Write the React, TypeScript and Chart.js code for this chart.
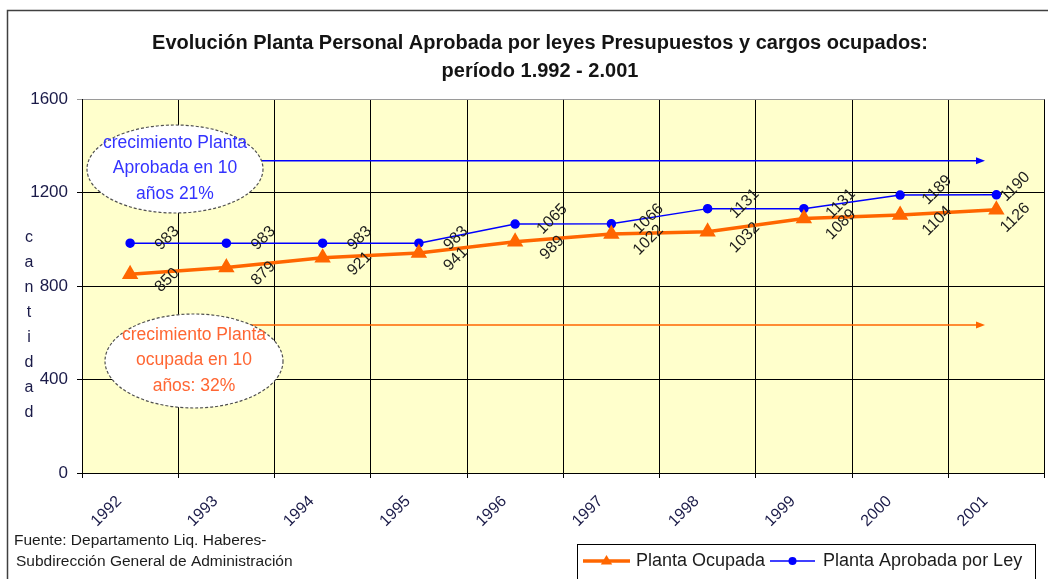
import React, { useEffect, useRef } from "react";
import { Chart, registerables } from "chart.js";

Chart.register(...registerables);

const years = ["1992", "1993", "1994", "1995", "1996", "1997", "1998", "1999", "2000", "2001"];
const plantaOcupada = [850, 879, 921, 941, 989, 1022, 1032, 1089, 1104, 1126];
const plantaAprobada = [983, 983, 983, 983, 1065, 1066, 1131, 1131, 1189, 1190];
const yMin = 0;
const yMax = 1600;
const yStep = 400;
const titleLines = [
  "Evolución Planta Personal Aprobada por leyes Presupuestos y cargos ocupados:",
  "período 1.992 - 2.001",
];
const seriesNames = ["Planta Ocupada", "Planta Aprobada por Ley"];
const yAxisTitle = "cantidad";
const sourceLines = ["Fuente: Departamento Liq. Haberes-", "Subdirección General de Administración"];
const noteAprobada = ["crecimiento Planta", "Aprobada en 10", "años 21%"];
const noteOcupada = ["crecimiento Planta", "ocupada en 10", "años: 32%"];

const FONT = "'Liberation Sans', Arial, sans-serif";
const ORANGE = "#FF6600";
const BLUE = "#0000FF";
const NAVY = "#1a1a48";

function arrow(ctx: CanvasRenderingContext2D, x1: number, y: number, x2: number, color: string, w: number) {
  ctx.save();
  ctx.strokeStyle = color;
  ctx.fillStyle = color;
  ctx.lineWidth = w;
  ctx.beginPath();
  ctx.moveTo(x1, y);
  ctx.lineTo(x2 - 6, y);
  ctx.stroke();
  ctx.beginPath();
  ctx.moveTo(x2, y);
  ctx.lineTo(x2 - 9, y - 3.5);
  ctx.lineTo(x2 - 9, y + 3.5);
  ctx.closePath();
  ctx.fill();
  ctx.restore();
}

function note(ctx: CanvasRenderingContext2D, cx: number, cy: number, rx: number, ry: number, lines: string[], color: string) {
  ctx.save();
  ctx.beginPath();
  ctx.ellipse(cx, cy, rx, ry, 0, 0, Math.PI * 2);
  ctx.fillStyle = "#ffffff";
  ctx.fill();
  ctx.setLineDash([3, 2]);
  ctx.strokeStyle = "#505050";
  ctx.lineWidth = 1.2;
  ctx.stroke();
  ctx.setLineDash([]);
  ctx.fillStyle = color;
  ctx.font = `17.5px ${FONT}`;
  ctx.textAlign = "center";
  ctx.textBaseline = "middle";
  lines.forEach((l, i) => ctx.fillText(l, cx, cy - 26 + i * 25.5));
  ctx.restore();
}

const decorPlugin = {
  id: "decor",
  beforeDraw(chart: any) {
    const { ctx, chartArea: a } = chart;
    ctx.save();
    ctx.fillStyle = "#FFFFCC";
    ctx.fillRect(a.left, a.top, a.right - a.left, a.bottom - a.top);
    ctx.restore();
  },
  afterDatasetsDraw(chart: any) {
    const { ctx } = chart;
    const yScale = chart.scales.y;
    // value labels
    ctx.save();
    ctx.font = `16px ${FONT}`;
    ctx.fillStyle = "#1c1c1c";
    ctx.textAlign = "center";
    ctx.textBaseline = "middle";
    chart.data.datasets.forEach((ds: any, di: number) => {
      const meta = chart.getDatasetMeta(di);
      meta.data.forEach((pt: any, i: number) => {
        const last = i === meta.data.length - 1;
        const dx = last ? 19 : 37;
        const dy = di === 0 ? (last ? 8 : 6) : last ? -8 : -5;
        ctx.save();
        ctx.translate(pt.x + dx, pt.y + dy);
        ctx.rotate(-Math.PI / 4);
        ctx.fillText(String(ds.data[i]), 0, 0);
        ctx.restore();
      });
    });
    ctx.restore();
    // annotations
    const yA = yScale.getPixelForValue(1336);
    const yO = yScale.getPixelForValue(633);
    arrow(ctx, 262, yA, 985, BLUE, 1.5);
    arrow(ctx, 243, yO, 985, ORANGE, 1.5);
    note(ctx, 175, 169, 88, 44, noteAprobada, "#3333FF");
    note(ctx, 194, 361, 89, 47, noteOcupada, "#FF6633");
  },
  afterDraw(chart: any) {
    const { ctx } = chart;
    ctx.save();
    // outer frame
    ctx.strokeStyle = "#404040";
    ctx.lineWidth = 1.5;
    ctx.strokeRect(7.5, 10.5, 1200, 700);
    // y-axis title, stacked letters
    ctx.fillStyle = NAVY;
    ctx.font = `16px ${FONT}`;
    ctx.textAlign = "center";
    ctx.textBaseline = "middle";
    yAxisTitle.split("").forEach((ch, i) => ctx.fillText(ch, 29, 238 + i * 25));
    // source
    ctx.fillStyle = "#1c1c1c";
    ctx.font = `15.5px ${FONT}`;
    ctx.textAlign = "left";
    ctx.fillText(sourceLines[0], 14, 541);
    ctx.fillText(sourceLines[1], 16, 562);
    // legend
    ctx.fillStyle = "#ffffff";
    ctx.fillRect(577, 544, 460, 60);
    ctx.strokeStyle = "#000000";
    ctx.lineWidth = 1;
    ctx.strokeRect(577.5, 544.5, 458, 60);
    const ly = 561;
    const items = [
      { x0: 583, x1: 630, tx: 636 },
      { x0: 770, x1: 815, tx: 823 },
    ];
    chart.data.datasets.forEach((ds: any, i: number) => {
      const it = items[i];
      ctx.strokeStyle = ds.borderColor;
      ctx.lineWidth = ds.borderWidth;
      ctx.beginPath();
      ctx.moveTo(it.x0, ly);
      ctx.lineTo(it.x1, ly);
      ctx.stroke();
      ctx.fillStyle = ds.pointBackgroundColor;
      const cx = (it.x0 + it.x1) / 2;
      ctx.beginPath();
      if (ds.pointStyle === "triangle") {
        const r = ds.pointRadius;
        ctx.moveTo(cx, ly - r);
        ctx.lineTo(cx + r * 0.95, ly + r * 0.6);
        ctx.lineTo(cx - r * 0.95, ly + r * 0.6);
        ctx.closePath();
      } else {
        ctx.arc(cx, ly, ds.pointRadius, 0, Math.PI * 2);
      }
      ctx.fill();
      ctx.fillStyle = "#1c1c1c";
      ctx.font = `18px ${FONT}`;
      ctx.textAlign = "left";
      ctx.fillText(ds.label, it.tx, ly);
    });
    ctx.restore();
  },
};

export default function App() {
  const ref = useRef<HTMLCanvasElement | null>(null);
  useEffect(() => {
    if (!ref.current) return;
    const chart = new Chart(ref.current, {
      type: "line",
      data: {
        labels: years,
        datasets: [
          {
            label: seriesNames[0],
            data: plantaOcupada,
            borderColor: ORANGE,
            backgroundColor: ORANGE,
            pointBackgroundColor: ORANGE,
            pointBorderColor: ORANGE,
            borderWidth: 3.5,
            pointStyle: "triangle",
            pointRadius: 6,
            tension: 0,
          },
          {
            label: seriesNames[1],
            data: plantaAprobada,
            borderColor: BLUE,
            backgroundColor: BLUE,
            pointBackgroundColor: BLUE,
            pointBorderColor: BLUE,
            borderWidth: 1.5,
            pointStyle: "circle",
            pointRadius: 4,
            tension: 0,
          },
        ],
      },
      options: {
        responsive: false,
        animation: false,
        devicePixelRatio: 1,
        layout: { padding: { left: 30, right: 4, top: 0, bottom: 46 } },
        plugins: {
          legend: { display: false },
          tooltip: { enabled: false },
          title: {
            display: true,
            text: titleLines,
            color: "#141414",
            font: { family: FONT, size: 20, weight: "bold", lineHeight: 28 / 20 },
            padding: { top: 29, bottom: 14 },
          },
        },
        scales: {
          x: {
            offset: true,
            grid: { offset: true, color: "#000000", lineWidth: 1, tickLength: 5, drawTicks: true },
            border: { color: "#000000", width: 1 },
            ticks: {
              autoSkip: false,
              minRotation: 45,
              maxRotation: 45,
              color: NAVY,
              padding: 14,
              labelOffset: -11,
              font: { family: FONT, size: 16 },
            },
            afterFit: (s: any) => {
              s.height = 60;
            },
          },
          y: {
            min: yMin,
            max: yMax,
            ticks: {
              stepSize: yStep,
              color: NAVY,
              padding: 9,
              font: { family: FONT, size: 17 },
              callback: (v: any) => String(v),
            },
            grid: {
              color: (c: any) => (c.tick && c.tick.value === yMax ? "#9a9a9a" : "#000000"),
              lineWidth: 1,
              tickLength: 5,
            },
            border: { color: "#000000", width: 1 },
            afterFit: (s: any) => {
              s.width = 52;
            },
          },
        },
      },
      plugins: [decorPlugin],
    } as any);
    return () => chart.destroy();
  }, []);
  return (
    <div style={{ position: "fixed", left: 0, top: 0, width: 1048, height: 579, overflow: "hidden", background: "#ffffff" }}>
      <canvas ref={ref} width={1054} height={579} style={{ display: "block" }} />
    </div>
  );
}
